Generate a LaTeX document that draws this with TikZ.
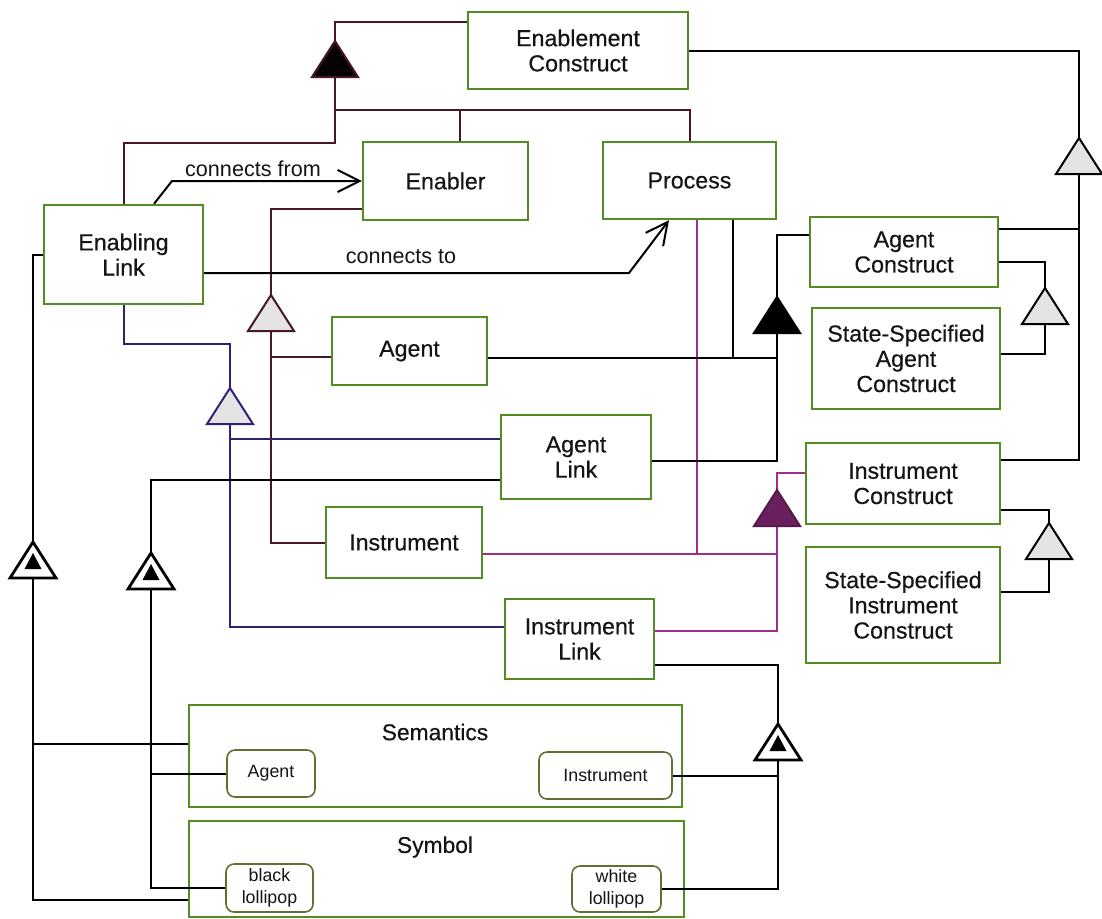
\documentclass[tikz,border=0pt]{standalone}
\usepackage{fontspec}
\setmainfont{Liberation Sans}[BoldFont={Liberation Sans}, BoldFeatures={FakeBold=0.4}]
\usetikzlibrary{arrows.meta,calc}
\definecolor{boxgreen}{RGB}{82,140,34}
\definecolor{sgreen}{RGB}{96,112,50}
\definecolor{ered}{RGB}{72,22,38}
\definecolor{epurple}{RGB}{52,32,112}
\definecolor{emag}{RGB}{160,44,140}
\definecolor{tripurple}{RGB}{106,32,92}
\definecolor{trigray}{RGB}{228,228,228}
\definecolor{txt}{RGB}{20,20,20}
\begin{document}
\begin{tikzpicture}[x=0.5pt,y=-0.5pt,
  wh/.style 2 args={minimum width=#1*0.5pt, minimum height=#2*0.5pt},
  box/.style={draw=boxgreen, line width=1.2pt, fill=white, align=center, inner sep=0pt,
    text=txt, font=\fontsize{11.6}{12.6}\selectfont\bfseries},
  sbox/.style={draw=sgreen, line width=0.8pt, rounded corners=4pt, fill=white, align=center,
    inner sep=0pt, text=txt, font=\fontsize{8.9}{10.8}\selectfont},
  titletext/.style={text=txt, font=\fontsize{11.4}{12.6}\selectfont\bfseries, inner sep=0pt},
  lbl/.style={text=txt, font=\fontsize{10.8}{12}\selectfont, inner sep=0pt},
  conn/.style={line width=1pt, line join=miter},
  blk/.style={conn, draw=black},
  red/.style={conn, draw=ered},
  pur/.style={conn, draw=epurple},
  mag/.style={conn, draw=emag},
  arr/.style={blk, -{Straight Barb[length=11pt,width=11pt,line width=1pt]}},
  tri/.pic={\path[pic actions, line width=1pt, line join=miter] (-23,0) -- (23,0) -- (0,-36) -- cycle;},
  dtri/.pic={\path[draw=black, fill=white, line width=1.4pt, line join=miter] (-23,0) -- (23,0) -- (0,-36) -- cycle;
             \path[fill=black] (-8.5,-9) -- (8.5,-9) -- (0,-25) -- cycle;}
]
\fill[white] (0,0) rectangle (1102,918);
\useasboundingbox (0,0) rectangle (1102,918);

% boxes
\node[box,wh={220}{77}] (enablement) at (578,50.5) {Enablement\\Construct};
\node[box,wh={165}{78}] (enabler) at (445.5,181) {Enabler};
\node[box,wh={173}{77}] (process) at (689.5,180.5) {Process};
\node[box,wh={159}{99}] (enablinglink) at (123.5,254.5) {Enabling\\Link};
\node[box,wh={155}{68}] (agent) at (409.5,351) {Agent};
\node[box,wh={188}{70}] (agentconstruct) at (904,252) {Agent\\Construct};
\node[box,wh={188}{101}] (ssac) at (906,358.5) {State-Specified\\Agent\\Construct};
\node[box,wh={150}{84}] (agentlink) at (576,457) {Agent\\Link};
\node[box,wh={194}{81}] (instrconstruct) at (903,483.5) {Instrument\\Construct};
\node[box,wh={156}{71}] (instrument) at (404,542.5) {Instrument};
\node[box,wh={194}{116}] (ssic) at (903,605) {State-Specified\\Instrument\\Construct};
\node[box,wh={149}{80}] (instrlink) at (579.5,639) {Instrument\\Link};
\node[box,wh={493}{102}] (semantics) at (435.5,756) {};
\node[titletext] (semtitle) at (435,732) {Semantics};
\node[sbox,wh={88}{47}] (semagent) at (271,773.5) {Agent};
\node[sbox,wh={133}{47}] (seminstr) at (605.5,775.5) {Instrument};
\node[box,wh={495}{96}] (symbol) at (436.5,869) {};
\node[titletext] (symtitle) at (435,847) {Symbol};
\node[sbox,wh={87}{48}] (blacklollipop) at (269.5,888) {black\\lollipop};
\node[sbox,wh={89}{46}] (whitelollipop) at (616.5,889) {white\\lollipop};

% triangle coordinates (base centre b, apex a)
\coordinate (t1b) at (335,77);   \coordinate (t1a) at (335,41);
\coordinate (t2b) at (1079,174); \coordinate (t2a) at (1079,138);
\coordinate (t3b) at (271,331);  \coordinate (t3a) at (271,295);
\coordinate (t4b) at (1045,324); \coordinate (t4a) at (1045,288);
\coordinate (t5b) at (777,333);  \coordinate (t5a) at (777,297);
\coordinate (t6b) at (230,424);  \coordinate (t6a) at (230,388);
\coordinate (t7b) at (777,526);  \coordinate (t7a) at (777,490);
\coordinate (t8b) at (1049,559); \coordinate (t8a) at (1049,523);
\coordinate (t9b) at (33,578);   \coordinate (t9a) at (33,542);
\coordinate (t10b) at (151,589); \coordinate (t10a) at (151,553);
\coordinate (t11b) at (778,760); \coordinate (t11a) at (778,724);

% dark red: enablement hierarchy
\draw[red] (t1a) |- ([yshift=-5.5pt]enablement.north west);
\draw[red] (t1b) -- (335,143) -| (enablinglink.north);
\draw[red] (335,110) -| (process.north);
\draw[red] ([xshift=7.25pt]enabler.north) -- (460,110);
\draw[red] ([yshift=-14pt]enabler.west) -| (t3a);
\draw[red] (t3b) |- (instrument.west);
\draw[red] ([yshift=-3pt]agent.west) -- (271,357);

% purple: enabling link specialisations
\draw[pur] (enablinglink.south) |- (230,344) -- (t6a);
\draw[pur] (t6b) |- ([yshift=6pt]instrlink.west);
\draw[pur] ([yshift=9pt]agentlink.west) -- (230,439);

% magenta: instrument construct
\draw[mag] ([xshift=3.75pt]process.south) -- (697,554);
\draw[mag] ([yshift=-5.75pt]instrument.east) -- (777,554);
\draw[mag] (t7a) |- ([yshift=5.25pt]instrconstruct.west);
\draw[mag] (t7b) |- ([yshift=4pt]instrlink.east);

% black
\draw[blk] (enablement.east) -| (t2a);
\draw[blk] (t2b) |- ([yshift=11.75pt]instrconstruct.east);
\draw[blk] ([yshift=11.5pt]agentconstruct.east) -- (1079,229);
\draw[blk] ([yshift=-5pt]agentconstruct.east) -| (t4a);
\draw[blk] (t4b) |- ([yshift=2.25pt]ssac.east);
\draw[blk] ([yshift=8.5pt]agentconstruct.west) -| (t5a);
\draw[blk] (t5b) |- ([yshift=-2pt]agentlink.east);
\draw[blk] ([yshift=-3.5pt]agent.east) -- (777,358);
\draw[blk] ([xshift=21.75pt]process.south) -- (733,358);
\draw[blk] ([yshift=-13pt]instrconstruct.east) -| (t8a);
\draw[blk] (t8b) |- ([yshift=6.5pt]ssic.east);
\draw[blk] (enablinglink.west) -| (t9a);
\draw[blk] (t9b) |- ([yshift=-15.5pt]symbol.west);
\draw[blk] ([yshift=6pt]semantics.west) -- (33,744);
\draw[blk] ([yshift=-11.5pt]agentlink.west) -| (t10a);
\draw[blk] (t10b) |- (blacklollipop.west);
\draw[blk] (semagent.west) -- (151,773.5);
\draw[blk] ([yshift=-13pt]instrlink.east) -| (t11a);
\draw[blk] (t11b) |- (whitelollipop.east);
\draw[blk] (seminstr.east) -- (778,775.5);

% association arrows
\draw[arr] ([xshift=15.25pt]enablinglink.north) -- (172,181) -- (enabler.west);
\node[lbl] (lfrom) at (253,169) {connects from};
\draw[arr] ([yshift=-9.25pt]enablinglink.east) -- (629,273) -- ([xshift=-10.25pt]process.south);
\node[lbl] (lto) at (401,257) {connects to};

% triangles
\pic[draw=ered, fill=black!92!ered] at (t1b) {tri};
\pic[draw=black, fill=trigray] at (t2b) {tri};
\pic[draw=ered, fill=trigray] at (t3b) {tri};
\pic[draw=black, fill=trigray] at (t4b) {tri};
\pic[draw=black, fill=black] at (t5b) {tri};
\pic[draw=epurple, fill=trigray] at (t6b) {tri};
\pic[draw=tripurple!80!black, fill=tripurple] at (t7b) {tri};
\pic[draw=black, fill=trigray] at (t8b) {tri};
\pic at (t9b) {dtri};
\pic at (t10b) {dtri};
\pic at (t11b) {dtri};
\end{tikzpicture}
\end{document}
